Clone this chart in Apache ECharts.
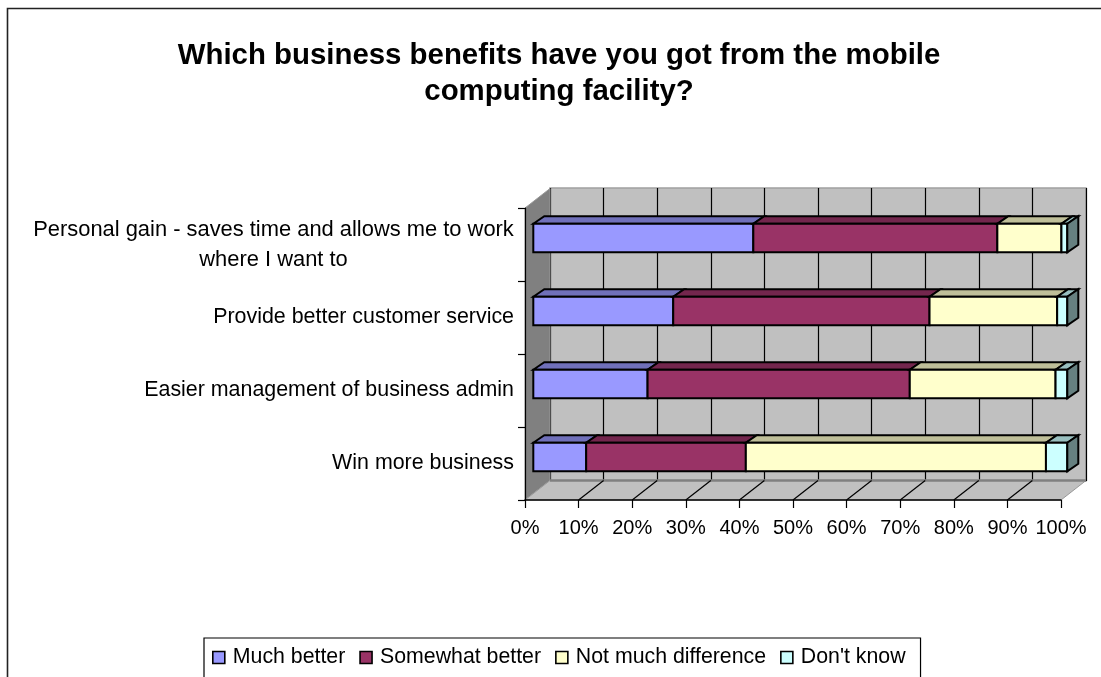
<!DOCTYPE html>
<html>
<head>
<meta charset="utf-8">
<style>html,body{margin:0;padding:0;background:#fff;overflow:hidden}#chart{width:1101px;height:677px}</style>
<script src="https://cdn.jsdelivr.net/npm/echarts@6/dist/echarts.min.js"></script>
</head>
<body>
<div id="chart"></div>
<script>
const titleText = 'Which business benefits have you got from the mobile\ncomputing facility?';
// Listed bottom-up, the order a category axis draws them in.
const categories = [
  'Win more business',
  'Easier management of business admin',
  'Provide better customer service',
  'Personal gain - saves time and allows me to work\nwhere I want to'
];
const muchBetter = [9.9, 21.4, 26.2, 41.2];
const somewhatBetter = [29.9, 49.1, 48.0, 45.7];
const notMuchDifference = [56.2, 27.3, 23.9, 12.0];
const dontKnow = [4.0, 2.2, 1.9, 1.1];
const seriesNames = ['Much better', 'Somewhat better', 'Not much difference', "Don't know"];
const seriesValues = [muchBetter, somewhatBetter, notMuchDifference, dontKnow];
const seriesColors = ['#9999FF', '#993366', '#FFFFCC', '#CCFFFF'];
const topColors = ['#7070BA', '#73264D', '#BFBF99', '#99BFBF'];
const sideColors = ['#4D4D80', '#4D1A33', '#808066', '#668080'];
const axisTicks = [0, 10, 20, 30, 40, 50, 60, 70, 80, 90, 100];

// Depth of the box and of each bar, as screen offsets.
const WALL_DX = 25, WALL_DY = -19.5;
const BAR_DX = 11, BAR_DY = -7.5;
const FONT = '"Liberation Sans", Arial, sans-serif';
const STROKE = { stroke: '#000', lineWidth: 2 };

// Left wall, floor and floor lines of the box, hung off the front axes.
function renderShell(params, api) {
  const cs = params.coordSys;
  const x0 = cs.x, x1 = cs.x + cs.width, yb = cs.y + cs.height, yt = cs.y;
  const children = [
    { type: 'polygon', shape: { points: [[x0, yt], [x0 + WALL_DX, yt + WALL_DY], [x0 + WALL_DX, yb + WALL_DY], [x0, yb]] },
      style: { fill: '#808080', stroke: '#999', lineWidth: 1 } },
    { type: 'polygon', shape: { points: [[x0, yb], [x0 + WALL_DX, yb + WALL_DY], [x1 + WALL_DX, yb + WALL_DY], [x1, yb]] },
      style: { fill: '#C0C0C0', stroke: '#999', lineWidth: 1 } },
    { type: 'line', shape: { x1: x0 + WALL_DX, y1: yb + WALL_DY, x2: x1 + WALL_DX, y2: yb + WALL_DY },
      style: { stroke: '#808080', lineWidth: 2.5 } }
  ];
  axisTicks.slice(1, -1).forEach(function (t) {
    const x = api.coord([t, 0])[0];
    children.push({ type: 'line', shape: { x1: x, y1: yb, x2: x + WALL_DX, y2: yb + WALL_DY }, style: { stroke: '#000', lineWidth: 1.2 } });
  });
  return { type: 'group', children: children };
}

// One stacked segment: front face, top face and, for the last segment, the end face.
function makeRenderBar(si) {
  return function (params, api) {
    const a = api.coord([api.value(0), api.value(2)]);
    const b = api.coord([api.value(1), api.value(2)]);
    const h = 28.5, yT = a[1] - h / 2, yB = a[1] + h / 2;
    const children = [
      { type: 'polygon', shape: { points: [[a[0], yT], [a[0] + BAR_DX, yT + BAR_DY], [b[0] + BAR_DX, yT + BAR_DY], [b[0], yT]] },
        style: Object.assign({ fill: topColors[si] }, STROKE) },
      { type: 'rect', shape: { x: a[0], y: yT, width: b[0] - a[0], height: h },
        style: Object.assign({ fill: seriesColors[si] }, STROKE) }
    ];
    if (si === seriesValues.length - 1) {
      children.push({ type: 'polygon', shape: { points: [[b[0], yT], [b[0] + BAR_DX, yT + BAR_DY], [b[0] + BAR_DX, yB + BAR_DY], [b[0], yB]] },
        style: Object.assign({ fill: sideColors[si] }, STROKE) });
    }
    return { type: 'group', children: children };
  };
}

const barSeries = seriesNames.map(function (name, si) {
  const data = categories.map(function (c, i) {
    let start = 0;
    for (let k = 0; k < si; k++) start += seriesValues[k][i];
    return [start, start + seriesValues[si][i], i];
  });
  return {
    name: name, type: 'custom', coordinateSystem: 'cartesian2d', xAxisIndex: 2, yAxisIndex: 2,
    z: 5 + si, clip: false, silent: true, data: data, encode: { x: [0, 1], y: 2 },
    itemStyle: { color: seriesColors[si], borderColor: '#000', borderWidth: 1.5 },
    renderItem: makeRenderBar(si)
  };
});

const option = {
  animation: false,
  backgroundColor: '#fff',
  graphic: [{
    type: 'rect', z: -10, silent: true,
    shape: { x: 7.5, y: 8.5, width: 1200, height: 800 },
    style: { fill: '#fff', stroke: '#222', lineWidth: 1.6 }
  }],
  title: {
    text: titleText, left: 554, top: 33, textAlign: 'center',
    textStyle: { fontFamily: FONT, fontSize: 29.4, fontWeight: 'bold', color: '#000', lineHeight: 36 }
  },
  legend: {
    data: seriesNames, left: 204, top: 638, orient: 'horizontal', icon: 'rect',
    itemWidth: 12, itemHeight: 12, itemGap: 14,
    padding: [9, 15, 26, 8], backgroundColor: '#fff', borderColor: '#000', borderWidth: 1.2,
    selectedMode: false,
    itemStyle: { borderColor: '#000', borderWidth: 1.6 },
    textStyle: { fontFamily: FONT, fontSize: 21.3, color: '#000', padding: [0, 0, 2, 3] }
  },
  grid: [
    { left: 550, top: 188, width: 536, height: 293, show: true, backgroundColor: '#C0C0C0', borderColor: '#A0A0A0', borderWidth: 1.5, z: 0 },
    { left: 525, top: 208, width: 536, height: 292, z: 1 },
    { left: 533.3, top: 201.5, width: 534, height: 292, z: 1 }
  ],
  xAxis: [
    { gridIndex: 0, type: 'value', min: 0, max: 100, interval: 10, axisLine: { show: false }, axisTick: { show: false }, axisLabel: { show: false },
      splitLine: { show: true, lineStyle: { color: '#000', width: 1.2 } } },
    { gridIndex: 1, type: 'value', min: 0, max: 100, interval: 10, z: 3, splitLine: { show: false },
      axisLine: { show: true, lineStyle: { color: '#000', width: 1.5 } },
      axisTick: { show: true, length: 8, lineStyle: { color: '#000', width: 1.2 } },
      axisLabel: { formatter: '{value}%', margin: 18, fontFamily: FONT, fontSize: 20, color: '#000', showMinLabel: true, showMaxLabel: true } },
    { gridIndex: 2, type: 'value', min: 0, max: 100, show: false }
  ],
  yAxis: [
    { gridIndex: 0, type: 'category', data: categories, show: false },
    { gridIndex: 1, type: 'category', data: categories, z: 3,
      axisLine: { show: true, lineStyle: { color: '#000', width: 1.2 } },
      axisTick: { show: true, length: 7, lineStyle: { color: '#000', width: 1.2 } },
      axisLabel: {
        margin: 11, fontFamily: FONT, fontSize: 21.4, color: '#000', align: 'right',
        formatter: function (v) {
          const lines = v.split('\n');
          return lines.length > 1 ? lines.map(function (l) { return '{wrapped|' + l + '}'; }).join('\n') : v;
        },
        rich: { wrapped: { fontFamily: FONT, fontSize: 21.9, color: '#000', width: 481, align: 'center', lineHeight: 30 } }
      } },
    { gridIndex: 2, type: 'category', data: categories, show: false }
  ],
  series: [{
    type: 'custom', coordinateSystem: 'cartesian2d', xAxisIndex: 1, yAxisIndex: 1,
    z: 1, clip: false, silent: true, data: [[0, 0]], encode: { x: 0, y: 1 }, renderItem: renderShell
  }].concat(barSeries)
};

echarts.init(document.getElementById('chart'), null, { renderer: 'canvas' }).setOption(option);
</script>
</body>
</html>
